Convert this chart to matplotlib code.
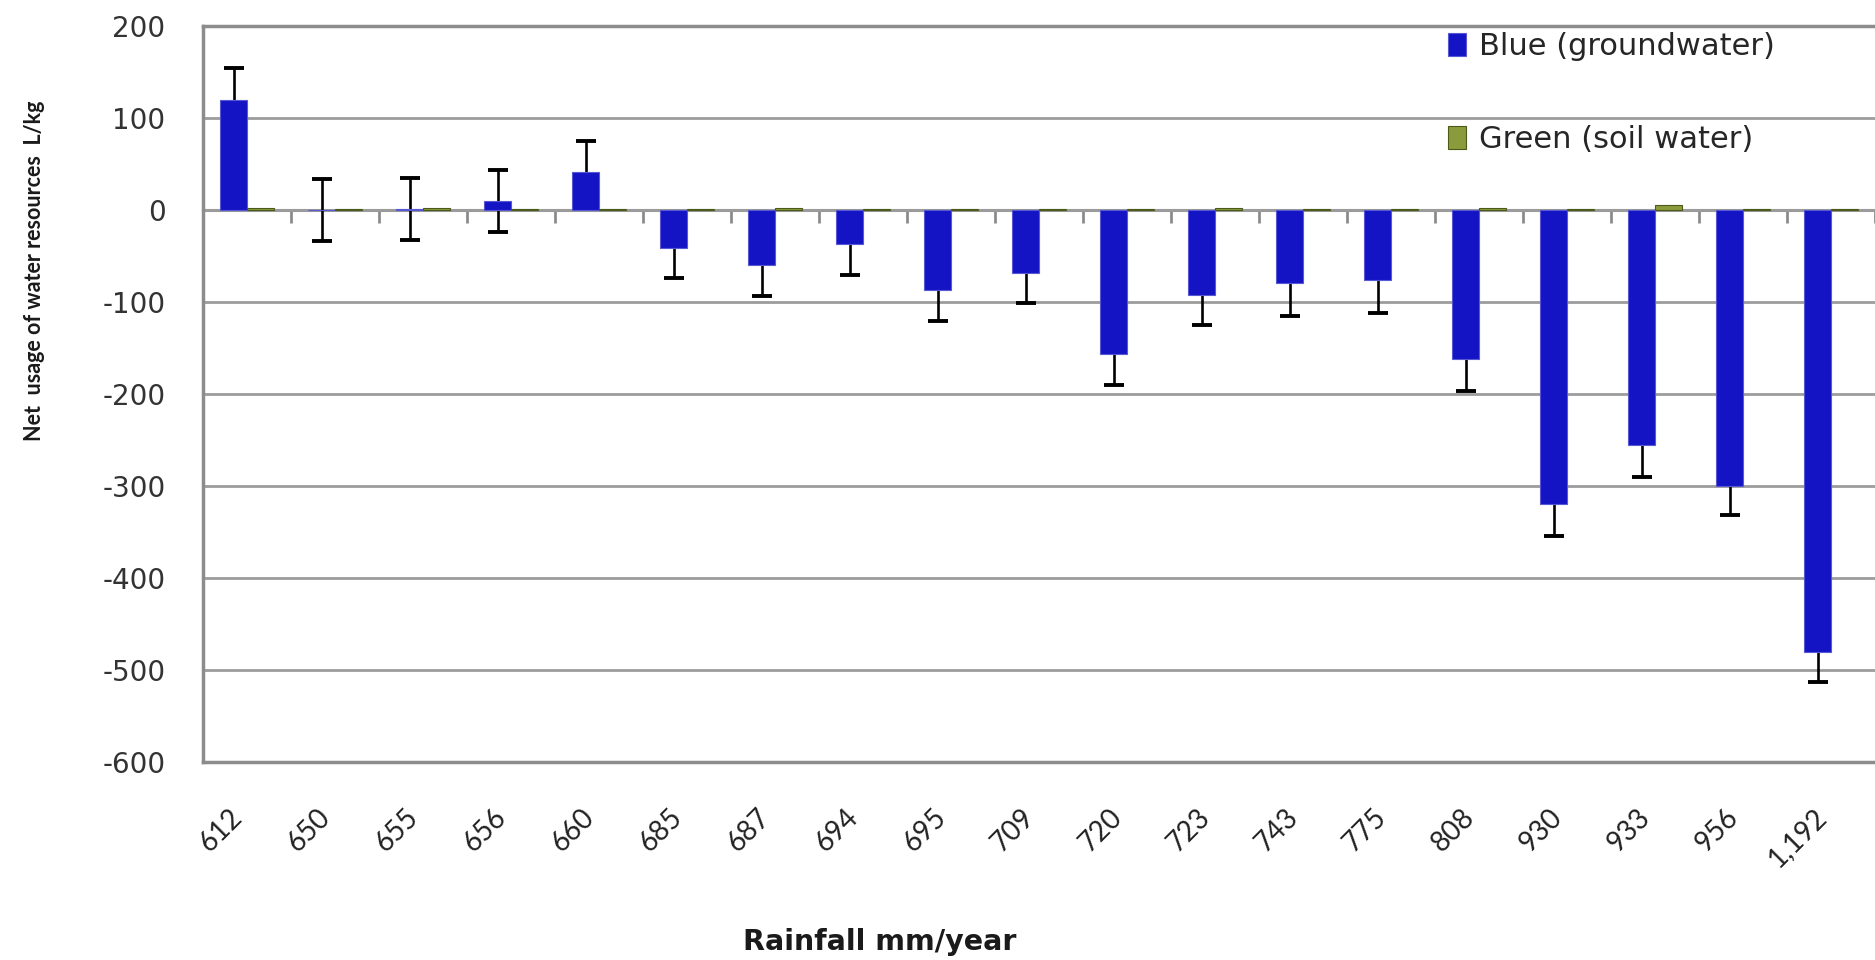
import matplotlib
matplotlib.use('Agg')
import matplotlib.pyplot as plt
import numpy as np

# ---- data ----
rainfall = ['612', '650', '655', '656', '660', '685', '687', '694', '695', '709',
            '720', '723', '743', '775', '808', '930', '933', '956', '1,192']
blue_values = [120, 0, 1, 10, 41, -41, -60, -37, -87, -69,
               -156, -92, -79, -76, -162, -320, -255, -300, -480]
blue_errors = [34, 34, 34, 34, 34, 33, 34, 34, 34, 32,
               34, 33, 36, 36, 35, 34, 35, 31, 33]
green_values = [2, 1, 2, 1, 1, 1, 2, 1, 1, 1,
                1, 2, 1, 1, 2, 1, 5, 1, 1]
series_names = ['Blue (groundwater)', 'Green (soil water)']
y_ticks = [-600, -500, -400, -300, -200, -100, 0, 100, 200]

plt.rcParams['axes.unicode_minus'] = False
plt.rcParams['font.family'] = ['DejaVu Sans']

W, H = 1875, 960
fig = plt.figure(figsize=(W / 100, H / 100), dpi=100)
fig.patch.set_facecolor('white')

ax_left, ax_right, ax_top, ax_bottom = 203, 1875, 26, 762
ax = fig.add_axes([ax_left / W, 1 - ax_bottom / H,
                   (ax_right - ax_left) / W, (ax_bottom - ax_top) / H])

n = len(rainfall)
x = np.arange(n)
w = 0.305
blue_col = '#1414c4'
green_col = '#8b9b3b'

ax.bar(x - w / 2, blue_values, width=w, color=blue_col, edgecolor='#5858d4',
       linewidth=0.8, label=series_names[0], zorder=3)
ax.errorbar(x - w / 2, blue_values, yerr=blue_errors, fmt='none', ecolor='black',
            elinewidth=1.9, capsize=7, capthick=2.8, zorder=2.5)
ax.bar(x + w / 2, green_values, width=w, color=green_col, edgecolor='#4a5a1a',
       linewidth=0.8, label=series_names[1], zorder=3)

ymin, ymax = y_ticks[0], y_ticks[-1]
ax.set_xlim(-0.5, n - 0.5)
ax.set_ylim(ymin, ymax)
ax.set_yticks(y_ticks)
ax.set_yticklabels([str(v) for v in y_ticks])
ax.grid(axis='y', color='#9c9c9c', linewidth=2.0, zorder=0)
ax.set_axisbelow(True)

grey = '#8c8c8c'
for s in ['left', 'bottom', 'top']:
    ax.spines[s].set_color(grey)
    ax.spines[s].set_linewidth(2.5)
ax.spines['right'].set_visible(False)

ax.tick_params(axis='y', length=0, pad=27, labelsize=20, labelcolor='#333333')
ax.set_xticks(x)
ax.set_xticklabels(rainfall, rotation=45, ha='right', va='top',
                   fontsize=20, family='Lato', color='#222222')
ax.tick_params(axis='x', length=0, pad=30)

# horizontal category axis crossing at zero, with tick marks between categories
zero_frac = (0 - ymin) / (ymax - ymin)
sec = ax.secondary_xaxis(zero_frac)
sec.set_alignment('bottom')
sec.set_xticks(np.arange(-0.5, n, 1.0))
sec.tick_params(axis='x', direction='out', length=9, width=2, color=grey,
                labelbottom=False, labeltop=False)
for s in sec.spines.values():
    s.set_color(grey)
    s.set_linewidth(2.2)

# legend
leg = fig.legend(loc='upper left', bbox_to_anchor=(1448 / W, 1 - 32 / H),
                 frameon=False, fontsize=22, handlelength=0.6, handleheight=0.75,
                 handletextpad=0.4, labelspacing=2.1, borderpad=0, borderaxespad=0)
for t in leg.get_texts():
    t.set_color('#262626')

# axis titles
fig.text(35 / W, 1 - 271 / H, 'Net  usage of water resources  L/kg', rotation=90,
         ha='center', va='center', fontsize=15.5, fontweight='bold', family='Lato',
         color='#1a1a1a')
fig.text(880 / W, 1 - 950 / H, 'Rainfall mm/year', ha='center', va='baseline',
         fontsize=20.5, fontweight='bold', color='#1a1a1a')

fig.savefig('out.png', dpi=100, facecolor='white')
